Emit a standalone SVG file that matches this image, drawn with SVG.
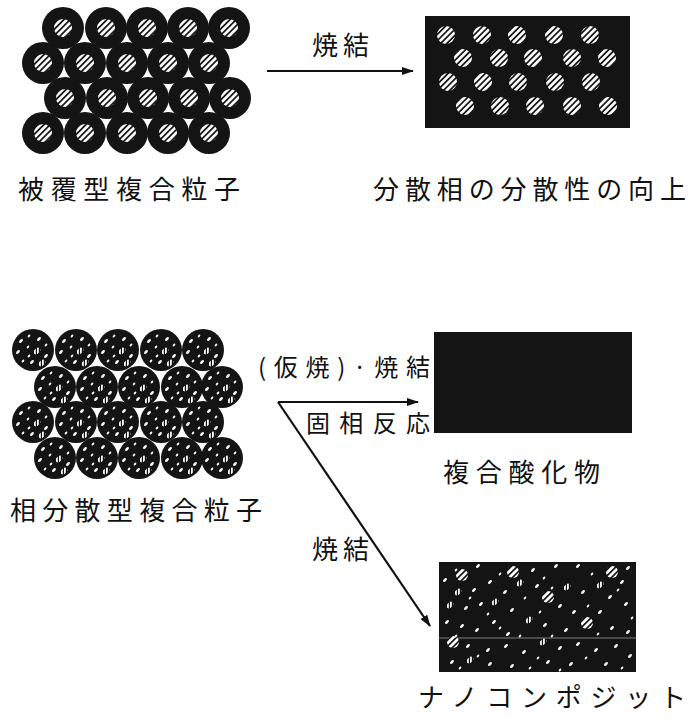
<svg xmlns="http://www.w3.org/2000/svg" xmlns:xlink="http://www.w3.org/1999/xlink" width="689" height="718" viewBox="0 0 689 718">
  <style>
    .lbl { font-family: "Noto Sans CJK JP", "Noto Sans", sans-serif; font-size: 26px; fill: #111; }
    .sm { font-size: 24px; }
    .dark { fill: #141414; }
    .conn { stroke: #111; stroke-width: 2.2; fill: none; }
  </style>
  <defs>
    <!-- diagonal "/" stripes used for the dispersed phase -->
    <pattern id="stripes" patternUnits="userSpaceOnUse" width="4.4" height="4.4" patternTransform="rotate(45)">
      <rect width="4.4" height="4.4" fill="#111"/>
      <rect width="2.7" height="4.4" fill="#fff"/>
    </pattern>
    <pattern id="fine" patternUnits="userSpaceOnUse" width="3" height="3" patternTransform="rotate(45)">
      <rect width="3" height="3" fill="#111"/>
      <rect width="1.8" height="3" fill="#fff"/>
    </pattern>
    <marker id="ah" viewBox="0 0 12 8" refX="11" refY="4" markerWidth="12" markerHeight="8" markerUnits="userSpaceOnUse" orient="auto">
      <path d="M0,0 L12,4 L0,8 Z" fill="#111"/>
    </marker>
    <!-- coated composite particle -->
    <g id="pc">
      <circle r="21" class="dark"/>
      <circle r="9" fill="url(#stripes)"/>
    </g>
    <!-- small white flecks -->
    <ellipse id="f" rx="2.4" ry="1.3" fill="#fff" transform="rotate(-45)"/>
    <ellipse id="fs" rx="1.6" ry="1" fill="#fff" transform="rotate(-45)"/>
    <circle id="big" r="6" fill="url(#stripes)"/>
    <ellipse id="mid" rx="3.8" ry="2.6" fill="url(#fine)" transform="rotate(-45)"/>
    <!-- phase-dispersed composite particle -->
    <g id="pd">
      <circle r="21" class="dark"/>
      <use href="#f" x="-12" y="-9"/>
      <use href="#fs" x="-4" y="-14"/>
      <use href="#f" x="6" y="-11"/>
      <use href="#fs" x="13" y="-5"/>
      <use href="#f" x="-15" y="2"/>
      <use href="#fs" x="-5" y="-3"/>
      <use href="#mid" x="4" y="1"/>
      <use href="#f" x="13" y="6"/>
      <use href="#fs" x="-10" y="11"/>
      <use href="#f" x="-1" y="12"/>
      <use href="#mid" x="9" y="13"/>
      <use href="#fs" x="-4" y="6"/>
    </g>
  </defs>

  <!-- coated composite particles -->
  <g id="coated">
    <use href="#pc" x="63" y="28"/><use href="#pc" x="106" y="28"/><use href="#pc" x="147" y="28"/><use href="#pc" x="188" y="28"/><use href="#pc" x="229" y="28"/>
    <use href="#pc" x="43" y="63"/><use href="#pc" x="85" y="63"/><use href="#pc" x="127" y="63"/><use href="#pc" x="168" y="63"/><use href="#pc" x="209" y="63"/>
    <use href="#pc" x="65" y="98"/><use href="#pc" x="107" y="98"/><use href="#pc" x="148" y="98"/><use href="#pc" x="189" y="98"/><use href="#pc" x="230" y="98"/>
    <use href="#pc" x="43" y="133"/><use href="#pc" x="85" y="133"/><use href="#pc" x="127" y="133"/><use href="#pc" x="168" y="133"/><use href="#pc" x="209" y="133"/>
    <text class="lbl" x="18" y="199" textLength="222" lengthAdjust="spacing">被覆型複合粒子</text>
  </g>

  <!-- sintered body with uniformly dispersed phase -->
  <g id="dispersed">
    <rect x="425" y="16" width="205" height="112" class="dark"/>
    <g fill="url(#stripes)">
      <circle cx="446" cy="35" r="9"/><circle cx="482" cy="35" r="9"/><circle cx="517" cy="35" r="9"/><circle cx="554" cy="35" r="9"/><circle cx="590" cy="35" r="9"/>
      <circle cx="463" cy="58" r="9"/><circle cx="499" cy="58" r="9"/><circle cx="533" cy="58" r="9"/><circle cx="572" cy="58" r="9"/><circle cx="607" cy="58" r="9"/>
      <circle cx="448" cy="82" r="9"/><circle cx="483" cy="82" r="9"/><circle cx="518" cy="82" r="9"/><circle cx="555" cy="82" r="9"/><circle cx="591" cy="82" r="9"/>
      <circle cx="465" cy="106" r="9"/><circle cx="500" cy="106" r="9"/><circle cx="535" cy="106" r="9"/><circle cx="572" cy="106" r="9"/><circle cx="608" cy="106" r="9"/>
    </g>
    <text class="lbl" x="373" y="199" textLength="313" lengthAdjust="spacing">分散相の分散性の向上</text>
  </g>

  <!-- phase-dispersed composite particles -->
  <g id="phase-dispersed">
    <use href="#pd" x="33" y="350"/><use href="#pd" x="76" y="350"/><use href="#pd" x="118" y="350"/><use href="#pd" x="161" y="350"/><use href="#pd" x="203" y="350"/>
    <use href="#pd" x="55" y="387"/><use href="#pd" x="97" y="387"/><use href="#pd" x="139" y="387"/><use href="#pd" x="182" y="387"/><use href="#pd" x="222" y="387"/>
    <use href="#pd" x="33" y="422"/><use href="#pd" x="76" y="422"/><use href="#pd" x="118" y="422"/><use href="#pd" x="161" y="422"/><use href="#pd" x="203" y="422"/>
    <use href="#pd" x="55" y="458"/><use href="#pd" x="97" y="458"/><use href="#pd" x="139" y="458"/><use href="#pd" x="182" y="458"/><use href="#pd" x="222" y="458"/>
    <text class="lbl" x="10" y="520" textLength="252" lengthAdjust="spacing">相分散型複合粒子</text>
  </g>

  <!-- complex oxide -->
  <g id="oxide">
    <rect x="434" y="332" width="198" height="101" class="dark"/>
    <text class="lbl" x="443" y="482" textLength="157" lengthAdjust="spacing">複合酸化物</text>
  </g>

  <!-- nanocomposite -->
  <g id="nano">
    <rect x="439" y="562" width="197" height="110" class="dark"/>
    <line x1="439" y1="638" x2="636" y2="638" stroke="#9a9a9a" stroke-width="0.8"/>
    <use href="#big" x="462" y="575"/><use href="#big" x="513" y="572"/><use href="#big" x="612" y="572"/>
    <use href="#big" x="548" y="597"/><use href="#big" x="587" y="623"/><use href="#big" x="453" y="642"/>
    <use href="#mid" x="450" y="605"/><use href="#mid" x="458" y="592"/><use href="#mid" x="543" y="642"/>
    <use href="#mid" x="520" y="583"/><use href="#mid" x="567" y="587"/><use href="#mid" x="495" y="602"/>
    <use href="#mid" x="600" y="585"/><use href="#mid" x="470" y="660"/><use href="#mid" x="529" y="620"/>
    <use href="#f" x="445" y="580"/><use href="#f" x="478" y="566"/><use href="#f" x="490" y="582"/><use href="#f" x="533" y="570"/>
    <use href="#f" x="556" y="566"/><use href="#f" x="578" y="566"/><use href="#f" x="628" y="568"/><use href="#f" x="622" y="582"/>
    <use href="#f" x="474" y="590"/><use href="#f" x="505" y="592"/><use href="#f" x="537" y="586"/><use href="#f" x="583" y="592"/>
    <use href="#f" x="610" y="597"/><use href="#f" x="626" y="604"/><use href="#f" x="466" y="608"/><use href="#f" x="481" y="604"/>
    <use href="#f" x="512" y="610"/><use href="#f" x="560" y="606"/><use href="#f" x="574" y="612"/><use href="#f" x="600" y="612"/>
    <use href="#f" x="447" y="622"/><use href="#f" x="462" y="626"/><use href="#f" x="477" y="630"/><use href="#f" x="494" y="622"/>
    <use href="#f" x="508" y="634"/><use href="#f" x="545" y="625"/><use href="#f" x="566" y="630"/><use href="#f" x="612" y="628"/>
    <use href="#f" x="628" y="632"/><use href="#f" x="468" y="646"/><use href="#f" x="488" y="650"/><use href="#f" x="506" y="646"/>
    <use href="#f" x="524" y="652"/><use href="#f" x="560" y="648"/><use href="#f" x="578" y="644"/><use href="#f" x="596" y="650"/>
    <use href="#f" x="616" y="646"/><use href="#f" x="630" y="656"/><use href="#f" x="452" y="662"/><use href="#f" x="490" y="664"/>
    <use href="#f" x="512" y="666"/><use href="#f" x="548" y="662"/><use href="#f" x="571" y="664"/><use href="#f" x="606" y="664"/>
    <use href="#fs" x="456" y="570"/><use href="#fs" x="500" y="574"/><use href="#fs" x="544" y="578"/><use href="#fs" x="592" y="574"/>
    <use href="#fs" x="470" y="598"/><use href="#fs" x="525" y="598"/><use href="#fs" x="552" y="588"/><use href="#fs" x="618" y="590"/>
    <use href="#fs" x="488" y="614"/><use href="#fs" x="540" y="612"/><use href="#fs" x="588" y="606"/><use href="#fs" x="632" y="618"/>
    <use href="#fs" x="456" y="636"/><use href="#fs" x="520" y="636"/><use href="#fs" x="552" y="636"/><use href="#fs" x="598" y="634"/>
    <use href="#fs" x="478" y="656"/><use href="#fs" x="538" y="658"/><use href="#fs" x="586" y="658"/><use href="#fs" x="622" y="668"/>
    <use href="#fs" x="460" y="668"/><use href="#fs" x="530" y="668"/><use href="#fs" x="560" y="670"/><use href="#fs" x="500" y="628"/>
    <text class="lbl" x="418" y="707" textLength="268" lengthAdjust="spacing">ナノコンポジット</text>
  </g>

  <!-- process arrows and their labels -->
  <g id="connectors">
    <line class="conn" x1="267" y1="71" x2="413" y2="71" marker-end="url(#ah)"/>
    <text class="lbl" x="312" y="55" textLength="57" lengthAdjust="spacing">焼結</text>

    <line class="conn" x1="278" y1="402" x2="418" y2="402" marker-end="url(#ah)"/>
    <line class="conn" x1="278" y1="402" x2="430" y2="626" marker-end="url(#ah)"/>
    <text class="lbl sm" x="258" y="376" textLength="172" lengthAdjust="spacing">(仮焼)·焼結</text>
    <text class="lbl sm" x="306" y="432" textLength="124" lengthAdjust="spacing">固相反応</text>
    <text class="lbl" x="312" y="559" textLength="57" lengthAdjust="spacing">焼結</text>
  </g>
</svg>
